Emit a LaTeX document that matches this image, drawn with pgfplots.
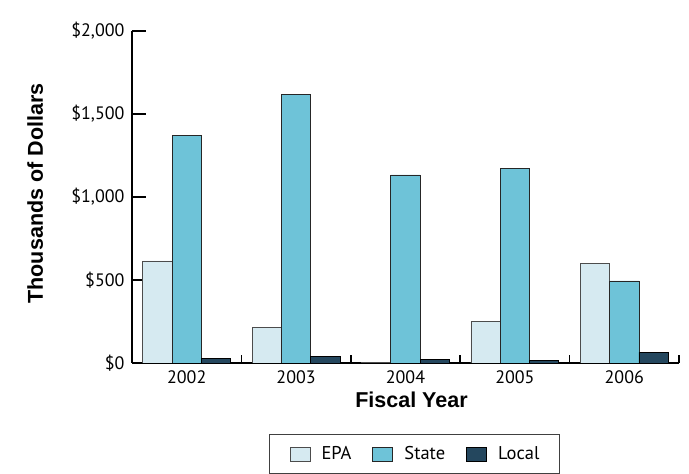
\documentclass[border=0pt]{standalone}
\usepackage{fontspec}
\setmainfont{PT Sans}
\newfontfamily\labelfont{Liberation Sans}
\usepackage{pgfplots}
\pgfplotsset{compat=1.18}

\definecolor{epa}{RGB}{214,234,241}
\definecolor{state}{RGB}{110,195,216}
\definecolor{local}{RGB}{36,71,94}

\begin{document}
\begin{tikzpicture}
\begin{axis}[
    at={(132pt,111pt)}, anchor=south west,
    scale only axis, width=547pt, height=332pt,
    ybar=0pt, bar width=29.3pt,
    xmin=-0.5, xmax=4.5, ymin=0, ymax=2000,
    axis x line=bottom, axis y line=left,
    axis line style={-, line width=1.5pt, black},
    tick align=inside,
    every tick/.style={black, line width=1.5pt},
    major tick length=14pt, minor tick length=8pt,
    xtick={0,1,2,3,4},
    xticklabels={2002,2003,2004,2005,2006},
    major x tick style={draw=none},
    minor xtick={0.5,1.5,2.5,3.5,4.5},
    ytick={0,500,1000,1500,2000},
    yticklabel={\$\pgfmathprintnumber{\tick}},
    /pgf/number format/.cd, 1000 sep={,}, assume math mode=true,
    /pgfplots/.cd,
    ticklabel style={font=\fontsize{18}{20}\selectfont},
    xticklabel style={yshift=-4pt},
    yticklabel style={xshift=-4pt},
    xlabel={\labelfont\bfseries Fiscal Year},
    xlabel style={at={(axis description cs:0.511,-0.1355)}, anchor=base,
        font=\fontsize{21.5}{24}\selectfont},
    ylabel={\labelfont\bfseries Thousands of Dollars},
    ylabel style={at={(axis description cs:-0.1627,0.5105)}, anchor=base,
        rotate=0, font=\fontsize{21.5}{24}\selectfont},
    legend columns=3,
    legend image code/.code={\draw[#1, line width=1pt] (0pt,-7pt) rectangle (20pt,7pt);},
    legend style={at={(axis description cs:0.5165,-0.2139)}, anchor=north,
        draw=black!75, line width=1.2pt,
        font=\fontsize{18.5}{20}\selectfont,
        inner xsep=20pt, inner ysep=12pt,
        nodes={inner sep=0pt},
        /tikz/every odd column/.append style={column sep=11pt},
        /tikz/every even column/.append style={column sep=21pt}},
]
\addplot[fill=epa, draw=black!70, line width=0.8pt] coordinates
    {(0,615) (1,215) (2,3) (3,251) (4,598)};
\addplot[fill=state, draw=black!85, line width=0.8pt] coordinates
    {(0,1372) (1,1616) (2,1133) (3,1173) (4,494)};
\addplot[fill=local, draw=black, line width=0.8pt] coordinates
    {(0,28) (1,40) (2,22) (3,15) (4,64)};
\legend{EPA, State, Local}
\end{axis}
\pgfresetboundingbox
\useasboundingbox (0pt,0pt) rectangle (689pt,474pt);
\end{tikzpicture}
\end{document}
